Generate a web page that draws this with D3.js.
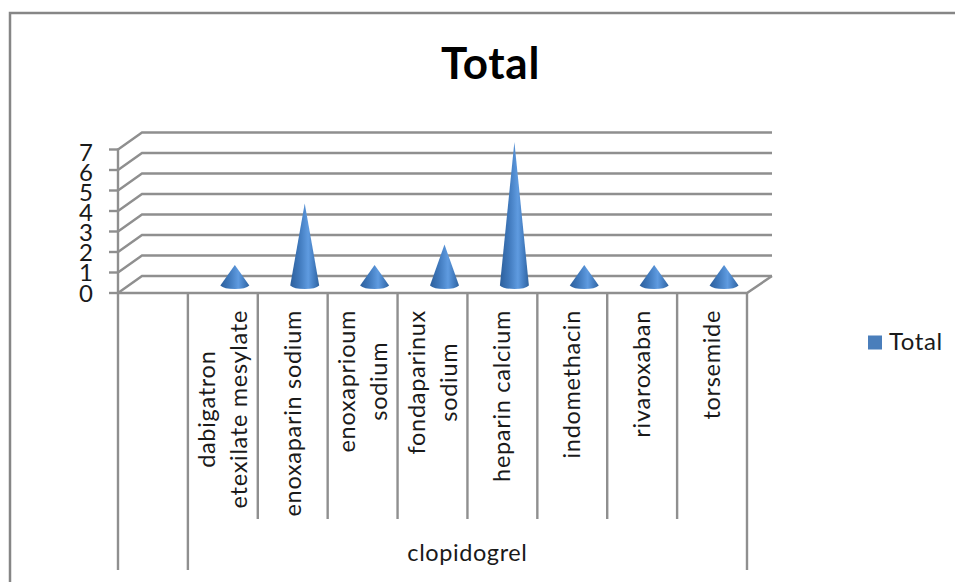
<!DOCTYPE html>
<html>
<head>
<meta charset="utf-8">
<style>
  html, body { margin: 0; padding: 0; background: #fff; }
  svg { display: block; }
  text { font-family: Lato, "Open Sans", sans-serif; fill: #1a1a1a; }
</style>
<script src="https://cdnjs.cloudflare.com/ajax/libs/d3/7.8.5/d3.min.js"></script>
</head>
<body>
<svg id="chart" width="955" height="582"></svg>
<script>
// Chart content
const chartTitle = "Total";
const seriesName = "Total";
const groupName = "clopidogrel";
const categoryLines = [
  [],
  ["dabigatron", "etexilate mesylate"],
  ["enoxaparin sodium"],
  ["enoxaprioum", "sodium"],
  ["fondaparinux", "sodium"],
  ["heparin calcium"],
  ["indomethacin"],
  ["rivaroxaban"],
  ["torsemide"]
];
const seriesValues = [null, 1, 4, 1, 2, 7, 1, 1, 1];
const valueTicks = [0, 1, 2, 3, 4, 5, 6, 7];

// Plot geometry
const plot = { left: 118, right: 747, floor: 293, top: 149.5, depthX: 24, depthY: -17 };
const axisColor = "#8f8f8f";
const axisWidth = 2.4;

const svg = d3.select("#chart");

const x = d3.scaleBand().domain(d3.range(categoryLines.length)).range([plot.left, plot.right]);
const y = d3.scaleLinear().domain([0, 7]).range([plot.floor, plot.top]);
// Tick labels are packed slightly tighter than the ticks themselves
const tickLabelY = d3.scaleLinear().domain([0, 7]).range([293, 152]);

// Outer frame: only the top and left edges fall inside the page
svg.append("path").attr("d", "M10,582V13H955")
  .attr("fill", "none").attr("stroke", "#868686").attr("stroke-width", 2.5);

// Wall gridlines running from the front axis back and across
const line = d3.line();
svg.append("g").selectAll("path").data(valueTicks).join("path")
  .attr("d", v => line([
    [plot.left, y(v)],
    [plot.left + plot.depthX, y(v) + plot.depthY],
    [plot.right + plot.depthX + 1, y(v) + plot.depthY]
  ]))
  .attr("fill", "none").attr("stroke", axisColor).attr("stroke-width", axisWidth);

// Floor edges
svg.append("path")
  .attr("d", line([[plot.left, plot.floor], [plot.right, plot.floor],
                   [plot.right + plot.depthX + 1, plot.floor + plot.depthY]]))
  .attr("fill", "none").attr("stroke", axisColor).attr("stroke-width", axisWidth);

// Value axis with outward ticks
svg.append("line").attr("x1", plot.left).attr("x2", plot.left)
  .attr("y1", plot.top - 1).attr("y2", 570)
  .attr("stroke", axisColor).attr("stroke-width", axisWidth);
svg.append("g").selectAll("line").data(valueTicks).join("line")
  .attr("x1", plot.left - 9).attr("x2", plot.left)
  .attr("y1", v => y(v)).attr("y2", v => y(v))
  .attr("stroke", axisColor).attr("stroke-width", axisWidth);
svg.append("g").selectAll("text").data(valueTicks).join("text")
  .attr("x", plot.left - 25).attr("y", v => tickLabelY(v))
  .attr("dy", "0.36em").attr("text-anchor", "end")
  .attr("font-size", 24).text(d => d);

// Category separators: inner ones are short, group boundaries run the full depth
const separators = d3.range(1, categoryLines.length + 1);
svg.append("g").selectAll("line").data(separators).join("line")
  .attr("x1", i => x(i) ?? plot.right).attr("x2", i => x(i) ?? plot.right)
  .attr("y1", plot.floor)
  .attr("y2", i => (i === 1 || i === categoryLines.length) ? 570 : 519)
  .attr("stroke", axisColor).attr("stroke-width", axisWidth);

// Horizontal gradient that gives the cones their rounded shading
const defs = svg.append("defs");
const grad = defs.append("linearGradient").attr("id", "coneShade")
  .attr("x1", "0").attr("x2", "1").attr("y1", "0").attr("y2", "0");
[[0, "#2c5f9c"], [0.3, "#3f78bb"], [0.62, "#5f9be0"], [0.85, "#4079bc"], [1, "#31649d"]]
  .forEach(([o, c]) => grad.append("stop").attr("offset", o).attr("stop-color", c));

// Cones, standing mid-depth on the floor
const coneHalfWidth = 14.5, coneBaseRy = 3.5;
const baseY = plot.floor + plot.depthY / 2 + 1;
const coneHeight = v => plot.floor - y(v);
const conePoints = d3.range(categoryLines.length).filter(i => seriesValues[i] !== null);
svg.append("g").selectAll("path").data(conePoints).join("path")
  .attr("d", i => {
    const cx = x(i) + x.bandwidth() / 2 + plot.depthX / 2;
    const tipY = baseY - coneHeight(seriesValues[i]);
    const p = d3.path();
    p.moveTo(cx, tipY);
    p.lineTo(cx + coneHalfWidth, baseY);
    // Front half of the elliptical base, traced as two quadratic curves
    p.quadraticCurveTo(cx + coneHalfWidth * 0.75, baseY + coneBaseRy, cx, baseY + coneBaseRy);
    p.quadraticCurveTo(cx - coneHalfWidth * 0.75, baseY + coneBaseRy, cx - coneHalfWidth, baseY);
    p.closePath();
    return p.toString();
  })
  .attr("fill", "url(#coneShade)");

// Rotated category labels: each block sits under the axis, its lines centred on each other
const labelTop = 310, lineStep = 32, labelSize = 23.5, labelSpacing = 0.7;
const labelGroups = svg.append("g").selectAll("g")
  .data(d3.range(categoryLines.length).filter(i => categoryLines[i].length)).join("g");
labelGroups.each(function (i) {
  const lines = categoryLines[i];
  const g = d3.select(this);
  const cx = x(i) + x.bandwidth() / 2;
  const texts = g.selectAll("text").data(lines).join("text")
    .attr("font-size", labelSize).attr("letter-spacing", labelSpacing)
    .attr("text-anchor", "middle").text(d => d);
  const widest = d3.max(texts.nodes(), n => n.getComputedTextLength());
  const midY = labelTop + widest / 2;
  texts.attr("transform", (d, k) => {
    const lx = cx + (k - (lines.length - 1) / 2) * lineStep + 8;
    return `translate(${lx},${midY}) rotate(-90)`;
  });
});

// Group label under the categories
svg.append("text").attr("x", (x(1) + plot.right) / 2).attr("y", 561)
  .attr("text-anchor", "middle").attr("font-size", 23.5).attr("letter-spacing", 0.6)
  .text(groupName);

// Title
svg.append("text").attr("x", 490.5).attr("y", 79)
  .attr("text-anchor", "middle").attr("font-size", 44).attr("font-weight", 700)
  .attr("letter-spacing", 0.7).style("fill", "#000").text(chartTitle);

// Legend
svg.append("rect").attr("x", 868).attr("y", 335.5).attr("width", 14).attr("height", 14)
  .attr("fill", "#4a7ebb");
svg.append("text").attr("x", 889).attr("y", 349.5).attr("font-size", 24)
  .attr("letter-spacing", 0.6).text(seriesName);
</script>
</body>
</html>
